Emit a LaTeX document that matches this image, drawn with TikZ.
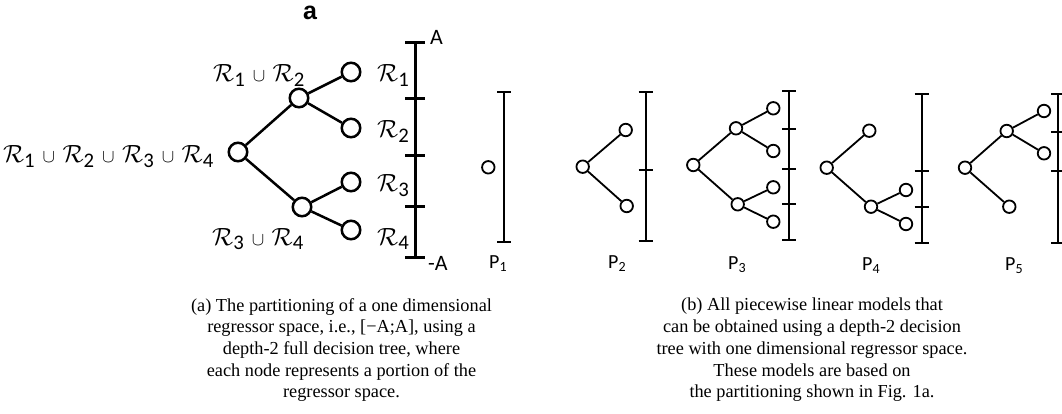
\documentclass[tikz,border=0pt]{standalone}
\usepackage{amsmath}
\usepackage{graphicx}
\usepackage{fontspec}
\setmainfont{Liberation Serif}
\newfontfamily\carlito{Carlito}
\newfontfamily\arialfam{Liberation Sans}
\newcommand\Rs[1]{\mathcal{R}_{\text{\carlito #1}}}
\newcommand\Un{\mathord{\hspace{7.5pt}\scalebox{0.75}{$\cup$}\hspace{7.5pt}}}
\tikzset{
  bignode/.style={circle, draw, line width=2.5pt, minimum size=18.5pt, inner sep=0pt},
  smallnode/.style={circle, draw, line width=1.8pt, minimum size=12.5pt, inner sep=0pt},
  bigedge/.style={line width=2.5pt},
  smalledge/.style={line width=1.8pt},
  bigaxis/.style={line width=3pt},
  smallaxis/.style={line width=2pt},
  rlabel/.style={inner sep=0pt, font=\fontsize{24.88}{25}\selectfont},
  alabel/.style={inner sep=0pt, font=\carlito\fontsize{22}{22}\selectfont},
  plabel/.style={inner sep=0pt, font=\carlito\fontsize{20}{20}\selectfont, anchor=base west},
  caption/.style={inner sep=0pt, align=center, anchor=north, font=\fontsize{18.3}{21.7}\selectfont}
}
\begin{document}
\begin{tikzpicture}[x=1pt,y=-1pt]
\useasboundingbox (0,0) rectangle (1062,414);

% ---------- part (a) ----------
\node[inner sep=0pt, anchor=base, font=\arialfam\bfseries\fontsize{25}{25}\selectfont] (lbla) at (310,20) {a};

\node[bignode] (root) at (238,152) {};
\node[bignode] (n12) at (299,98) {};
\node[bignode] (n34) at (302,207) {};
\node[bignode] (l1) at (351,72) {};
\node[bignode] (l2) at (351,128) {};
\node[bignode] (l3) at (351,182) {};
\node[bignode] (l4) at (351,230) {};
\draw[bigedge] (root) -- (n12);
\draw[bigedge] (root) -- (n34);
\draw[bigedge] (n12) -- (l1);
\draw[bigedge] (n12) -- (l2);
\draw[bigedge] (n34) -- (l3);
\draw[bigedge] (n34) -- (l4);

\draw[bigaxis] (415,43) -- (415,257);
\foreach \yy in {43,99,156,206,257} \draw[bigaxis] (405,\yy) -- (425,\yy);
\node[alabel, anchor=base west] (ltA) at (430,45) {A};
\node[alabel, anchor=base west] (ltmA) at (428,270) {-A};

\node[rlabel, anchor=base east] (lroot) at (214,163) {$\Rs{1}\Un\Rs{2}\Un\Rs{3}\Un\Rs{4}$};
\node[rlabel, anchor=base west] (l12) at (213,82) {$\Rs{1}\Un\Rs{2}$};
\node[rlabel, anchor=base west] (l34) at (212,245) {$\Rs{3}\Un\Rs{4}$};
\node[rlabel, anchor=base west] (lr1) at (377,82) {$\Rs{1}$};
\node[rlabel, anchor=base west] (lr2) at (377,138) {$\Rs{2}$};
\node[rlabel, anchor=base west] (lr3) at (377,192) {$\Rs{3}$};
\node[rlabel, anchor=base west] (lr4) at (377,245) {$\Rs{4}$};

% ---------- part (b) ----------
% P1
\node[smallnode] (a1) at (488.3,167.3) {};
\draw[smallaxis] (504.3,92.3) -- (504.3,241.7);
\foreach \yy in {92.3,241.7} \draw[smallaxis] (497.3,\yy) -- (511.3,\yy);
\node[plabel] (pl1) at (489,268) {P$_{\text{\carlito 1}}$};

% P2
\node[smallnode] (b0) at (582.7,166.7) {};
\node[smallnode] (b1) at (625.7,130) {};
\node[smallnode] (b2) at (626.7,206) {};
\draw[smalledge] (b0) -- (b1);
\draw[smalledge] (b0) -- (b2);
\draw[smallaxis] (645.7,91.7) -- (645.7,241);
\foreach \yy in {91.7,170,241} \draw[smallaxis] (638.7,\yy) -- (652.7,\yy);
\node[plabel] (pl2) at (608,268) {P$_{\text{\carlito 2}}$};

% P3
\node[smallnode] (c0) at (693.3,165) {};
\node[smallnode] (c1) at (736,128.3) {};
\node[smallnode] (c2) at (737.7,204.3) {};
\node[smallnode] (c11) at (773.3,108.3) {};
\node[smallnode] (c12) at (773.3,151) {};
\node[smallnode] (c21) at (773.3,187.3) {};
\node[smallnode] (c22) at (773.3,221.7) {};
\draw[smalledge] (c0) -- (c1);
\draw[smalledge] (c0) -- (c2);
\draw[smalledge] (c1) -- (c11);
\draw[smalledge] (c1) -- (c12);
\draw[smalledge] (c2) -- (c21);
\draw[smalledge] (c2) -- (c22);
\draw[smallaxis] (789.3,91) -- (789.3,240);
\foreach \yy in {91,129,169.3,204,240} \draw[smallaxis] (782.3,\yy) -- (796.3,\yy);
\node[plabel] (pl3) at (728,269) {P$_{\text{\carlito 3}}$};

% P4
\node[smallnode] (d0) at (826.7,167.7) {};
\node[smallnode] (d1) at (869.3,130.7) {};
\node[smallnode] (d2) at (871,206.7) {};
\node[smallnode] (d21) at (906,190) {};
\node[smallnode] (d22) at (906,224) {};
\draw[smalledge] (d0) -- (d1);
\draw[smalledge] (d0) -- (d2);
\draw[smalledge] (d2) -- (d21);
\draw[smalledge] (d2) -- (d22);
\draw[smallaxis] (921.7,94) -- (921.7,243.3);
\foreach \yy in {94,171,206.7,243.3} \draw[smallaxis] (914.7,\yy) -- (928.7,\yy);
\node[plabel] (pl4) at (862,270) {P$_{\text{\carlito 4}}$};

% P5
\node[smallnode] (e0) at (965,167.7) {};
\node[smallnode] (e1) at (1006.7,131) {};
\node[smallnode] (e2) at (1009.3,206.7) {};
\node[smallnode] (e11) at (1044,111) {};
\node[smallnode] (e12) at (1044,153.3) {};
\draw[smalledge] (e0) -- (e1);
\draw[smalledge] (e0) -- (e2);
\draw[smalledge] (e1) -- (e11);
\draw[smalledge] (e1) -- (e12);
\draw[smallaxis] (1058,94) -- (1058,243.3);
\foreach \yy in {94,131.7,171,243.3} \draw[smallaxis] (1051,\yy) -- (1065,\yy);
\node[plabel] (pl5) at (1005,270) {P$_{\text{\carlito 5}}$};

% ---------- captions ----------
\node[caption] (capa) at (341.5,298) {(a) The partitioning of a one dimensional\\ regressor space, i.e., {[}−A;A{]}, using a\\ depth-2 full decision tree, where\\ each node represents a portion of the\\ regressor space.};
\node[caption] (capb) at (812,298) {(b) All piecewise linear models that\\ can be obtained using a depth-2 decision\\ tree with one dimensional regressor space.\\ These models are based on\\ the partitioning shown in Fig. 1a.};
\end{tikzpicture}
\end{document}
